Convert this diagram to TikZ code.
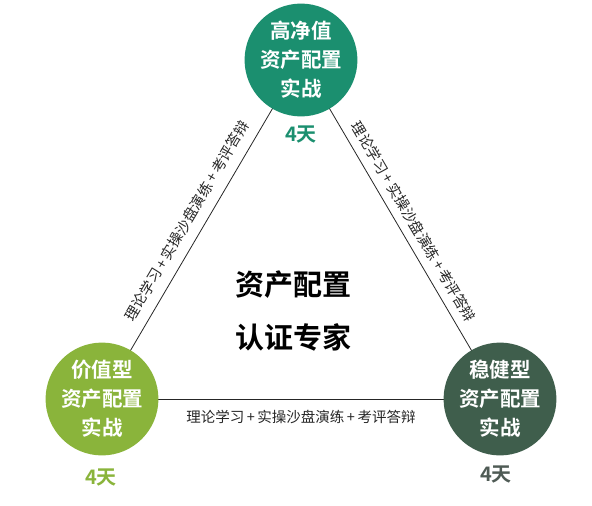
\documentclass[tikz,border=0pt]{standalone}
\usepackage{fontspec}
\newfontfamily\cjk{Noto Sans CJK SC}[BoldFont={Noto Sans CJK SC Bold}]
\definecolor{cTop}{HTML}{1B8F6F}
\definecolor{cLeft}{HTML}{8AB43B}
\definecolor{cRight}{HTML}{3F5E4C}
\definecolor{cRightTxt}{HTML}{4F5B55}
\newcommand{\pl}{\hspace{2.5pt}+\hspace{2.5pt}}
\newcommand{\lbltext}{理论学习\pl 实操沙盘演练\pl 考评答辩}
\begin{document}
\begin{tikzpicture}[x=1pt,y=-1pt,
  hub/.style={circle,minimum size=#1,inner sep=0pt,text=white,font=\cjk\bfseries\fontsize{20.5}{29}\selectfont,align=center},
  days/.style={font=\cjk\bfseries\fontsize{20}{24}\selectfont},
  edgelbl/.style={font=\cjk\fontsize{14.5}{16}\selectfont,text=black!85,inner sep=2pt},
  link/.style={draw=black!85,line width=0.8pt}]
\useasboundingbox (0,0) rectangle (592,506);
\coordinate (ct) at (301,60);
\coordinate (cl) at (102,399);
\coordinate (cr) at (500,399);
\draw[link] (cl) -- node[edgelbl,sloped,above=8pt]{\lbltext} (ct);
\draw[link] (ct) -- node[edgelbl,sloped,above=6pt]{\lbltext} (cr);
\draw[link] (cl) -- node[edgelbl,below=9pt]{\lbltext} (cr);
\node[hub=112pt,fill=cTop] (top) at (ct) {高净值\\资产配置\\实战};
\node[hub=110pt,fill=cLeft] (left) at (cl) {价值型\\资产配置\\实战};
\node[hub=106pt,fill=cRight] (right) at (cr) {稳健型\\资产配置\\实战};
\node[days,text=cTop] (dt) at (301,135) {4天};
\node[days,text=cLeft] (dl) at (101,478) {4天};
\node[days,text=cRightTxt] (dr) at (496,475) {4天};
\node[font=\cjk\bfseries\fontsize{29}{53}\selectfont,align=center] (center) at (293,311) {资产配置\\认证专家};
\end{tikzpicture}
\end{document}
